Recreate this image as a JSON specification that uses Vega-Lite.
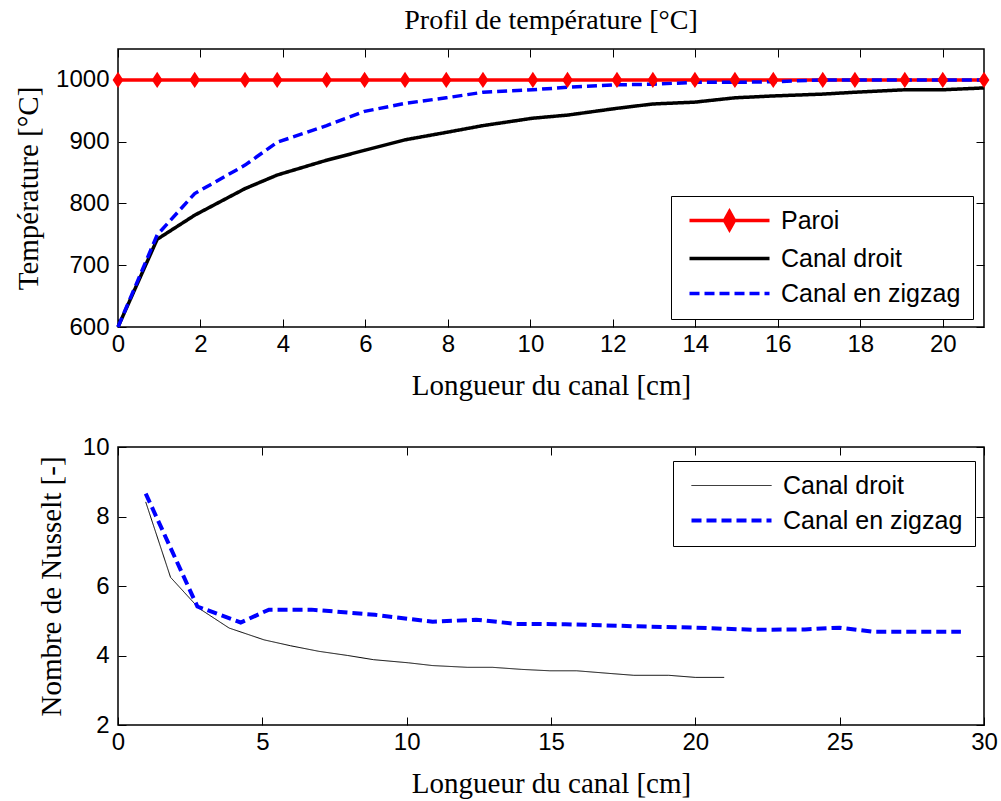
{
  "$schema": "https://vega.github.io/schema/vega-lite/v6.json",
  "padding": {"left": 13, "top": 5, "right": 5, "bottom": 5},
  "background": "white",
  "spacing": 120,
  "bounds": "flush",
  "config": {
    "view": {"stroke": "black", "strokeWidth": 1.5},
    "axis": {
      "grid": false, "domain": false, "tickColor": "black", "tickSize": -8, "tickWidth": 1, "labelFlush": false, "format": "d",
      "labelFont": "Liberation Sans", "labelFontSize": 24, "labelColor": "black",
      "titleFont": "Liberation Serif", "titleFontSize": 29, "titleFontWeight": "normal", "titleColor": "black"
    },
    "legend": {
      "orient": "none", "title": null, "strokeColor": "black", "fillColor": "white", "padding": 12,
      "labelFont": "Liberation Sans", "labelFontSize": 25, "labelColor": "black", "labelOffset": 73, "labelLimit": 0,
      "symbolSize": 400, "rowPadding": 9
    }
  },
  "resolve": {"scale": {"color": "independent", "strokeDash": "independent", "strokeWidth": "independent"}, "legend": {"color": "independent"}},
  "vconcat": [
    {
      "width": 866, "height": 278,
      "title": {"text": "Profil de température [°C]", "font": "Liberation Serif", "fontSize": 28, "fontWeight": "normal", "color": "black", "offset": 14},
      "data": {"values": [
        {"x": 0, "T": 1000, "serie": "Paroi"}, {"x": 0.95, "T": 1000, "serie": "Paroi"}, {"x": 1.86, "T": 1000, "serie": "Paroi"},
        {"x": 3.08, "T": 1000, "serie": "Paroi"}, {"x": 3.86, "T": 1000, "serie": "Paroi"}, {"x": 5.06, "T": 1000, "serie": "Paroi"},
        {"x": 5.98, "T": 1000, "serie": "Paroi"}, {"x": 6.96, "T": 1000, "serie": "Paroi"}, {"x": 7.96, "T": 1000, "serie": "Paroi"},
        {"x": 8.85, "T": 1000, "serie": "Paroi"}, {"x": 10.06, "T": 1000, "serie": "Paroi"}, {"x": 10.9, "T": 1000, "serie": "Paroi"},
        {"x": 12.1, "T": 1000, "serie": "Paroi"}, {"x": 12.97, "T": 1000, "serie": "Paroi"}, {"x": 13.99, "T": 1000, "serie": "Paroi"},
        {"x": 14.96, "T": 1000, "serie": "Paroi"}, {"x": 15.89, "T": 1000, "serie": "Paroi"}, {"x": 17.09, "T": 1000, "serie": "Paroi"},
        {"x": 17.87, "T": 1000, "serie": "Paroi"}, {"x": 19.08, "T": 1000, "serie": "Paroi"}, {"x": 20, "T": 1000, "serie": "Paroi"},
        {"x": 21, "T": 1000, "serie": "Paroi"},
        {"x": 0, "T": 600, "serie": "Canal droit"}, {"x": 0.95, "T": 742, "serie": "Canal droit"}, {"x": 1.86, "T": 781, "serie": "Canal droit"},
        {"x": 3.08, "T": 824, "serie": "Canal droit"}, {"x": 3.86, "T": 846, "serie": "Canal droit"}, {"x": 5.06, "T": 870, "serie": "Canal droit"},
        {"x": 5.98, "T": 886, "serie": "Canal droit"}, {"x": 6.96, "T": 903, "serie": "Canal droit"}, {"x": 7.96, "T": 915, "serie": "Canal droit"},
        {"x": 8.85, "T": 926, "serie": "Canal droit"}, {"x": 10.06, "T": 938, "serie": "Canal droit"}, {"x": 10.9, "T": 943, "serie": "Canal droit"},
        {"x": 12.1, "T": 954, "serie": "Canal droit"}, {"x": 12.97, "T": 961, "serie": "Canal droit"}, {"x": 13.99, "T": 964, "serie": "Canal droit"},
        {"x": 14.96, "T": 971, "serie": "Canal droit"}, {"x": 15.89, "T": 974, "serie": "Canal droit"}, {"x": 17.09, "T": 977, "serie": "Canal droit"},
        {"x": 17.87, "T": 980, "serie": "Canal droit"}, {"x": 19.08, "T": 984, "serie": "Canal droit"}, {"x": 20, "T": 984, "serie": "Canal droit"},
        {"x": 21, "T": 987, "serie": "Canal droit"},
        {"x": 0, "T": 600, "serie": "Canal en zigzag"}, {"x": 0.95, "T": 749, "serie": "Canal en zigzag"}, {"x": 1.86, "T": 816, "serie": "Canal en zigzag"},
        {"x": 3.08, "T": 862, "serie": "Canal en zigzag"}, {"x": 3.86, "T": 899, "serie": "Canal en zigzag"}, {"x": 5.06, "T": 926, "serie": "Canal en zigzag"},
        {"x": 5.98, "T": 949, "serie": "Canal en zigzag"}, {"x": 6.96, "T": 962, "serie": "Canal en zigzag"}, {"x": 7.96, "T": 971, "serie": "Canal en zigzag"},
        {"x": 8.85, "T": 980, "serie": "Canal en zigzag"}, {"x": 10.06, "T": 984, "serie": "Canal en zigzag"}, {"x": 10.9, "T": 988, "serie": "Canal en zigzag"},
        {"x": 12.1, "T": 992, "serie": "Canal en zigzag"}, {"x": 12.97, "T": 993, "serie": "Canal en zigzag"}, {"x": 13.99, "T": 996, "serie": "Canal en zigzag"},
        {"x": 14.96, "T": 996, "serie": "Canal en zigzag"}, {"x": 15.89, "T": 997, "serie": "Canal en zigzag"}, {"x": 17.09, "T": 1000, "serie": "Canal en zigzag"},
        {"x": 17.87, "T": 1000, "serie": "Canal en zigzag"}, {"x": 19.08, "T": 1000, "serie": "Canal en zigzag"}, {"x": 20, "T": 1000, "serie": "Canal en zigzag"},
        {"x": 21, "T": 1000, "serie": "Canal en zigzag"}
      ]},
      "resolve": {"axis": {"x": "independent", "y": "independent"}},
      "layer": [
        {
          "mark": {"type": "line", "strokeWidth": 3.5, "clip": false},
          "encoding": {
            "x": {"field": "x", "type": "quantitative", "scale": {"domain": [0, 21], "nice": false, "zero": false},
                  "axis": {"title": "Longueur du canal [cm]", "values": [0, 2, 4, 6, 8, 10, 12, 14, 16, 18, 20], "labelPadding": 13, "titlePadding": 15}},
            "y": {"field": "T", "type": "quantitative", "scale": {"domain": [600, 1050], "nice": false, "zero": false},
                  "axis": {"title": "Température [°C]", "values": [600, 700, 800, 900, 1000], "labelPadding": 17, "titlePadding": 12}},
            "color": {"field": "serie", "type": "nominal",
                      "scale": {"domain": ["Paroi", "Canal droit", "Canal en zigzag"], "range": ["#ff0000", "#000000", "#0000ff"]},
                      "legend": {"legendX": 553, "legendY": 147,
                        "encode": {"symbols": {"update": {
                          "shape": [{"test": "datum.value === 'Paroi'", "value": "M-0.6,0H7.4M3.4,-0.9L3.9,0L3.4,0.9L2.9,0Z"}, {"value": "M-0.6,0H7.4"}],
                          "fill": [{"test": "datum.value === 'Paroi'", "value": "#ff0000"}, {"value": "transparent"}],
                          "strokeDash": [{"test": "datum.value === 'Canal en zigzag'", "value": [10, 5]}, {"value": [1, 0]}],
                          "strokeWidth": {"value": 3.5}, "opacity": {"value": 1}
                        }}}}},
            "strokeDash": {"field": "serie", "type": "nominal",
                           "scale": {"domain": ["Paroi", "Canal droit", "Canal en zigzag"], "range": [[1, 0], [1, 0], [10, 5]]}, "legend": null}
          }
        },
        {
          "transform": [{"filter": "datum.serie === 'Paroi'"}],
          "mark": {"type": "point", "shape": "M0,-1.5L1,0L0,1.5L-1,0Z", "size": 70, "filled": true, "color": "#ff0000", "stroke": "#ff0000", "strokeWidth": 2, "opacity": 1, "clip": false},
          "encoding": {
            "x": {"field": "x", "type": "quantitative", "axis": {"orient": "top", "labels": false, "title": null, "values": [0, 2, 4, 6, 8, 10, 12, 14, 16, 18, 20]}},
            "y": {"field": "T", "type": "quantitative", "axis": {"orient": "right", "labels": false, "title": null, "values": [600, 700, 800, 900, 1000]}}
          }
        }
      ]
    },
    {
      "width": 866, "height": 278,
      "data": {"values": [
        {"x": 0.96, "Nu": 8.42, "serie": "Canal droit"}, {"x": 1.82, "Nu": 6.25, "serie": "Canal droit"}, {"x": 2.8, "Nu": 5.36, "serie": "Canal droit"},
        {"x": 3.85, "Nu": 4.79, "serie": "Canal droit"}, {"x": 5.06, "Nu": 4.45, "serie": "Canal droit"}, {"x": 5.98, "Nu": 4.28, "serie": "Canal droit"},
        {"x": 6.96, "Nu": 4.12, "serie": "Canal droit"}, {"x": 7.96, "Nu": 4.0, "serie": "Canal droit"}, {"x": 8.85, "Nu": 3.88, "serie": "Canal droit"},
        {"x": 10.06, "Nu": 3.79, "serie": "Canal droit"}, {"x": 10.9, "Nu": 3.71, "serie": "Canal droit"}, {"x": 12.1, "Nu": 3.66, "serie": "Canal droit"},
        {"x": 12.97, "Nu": 3.66, "serie": "Canal droit"}, {"x": 13.99, "Nu": 3.6, "serie": "Canal droit"}, {"x": 14.96, "Nu": 3.56, "serie": "Canal droit"},
        {"x": 15.89, "Nu": 3.56, "serie": "Canal droit"}, {"x": 17.09, "Nu": 3.48, "serie": "Canal droit"}, {"x": 17.87, "Nu": 3.43, "serie": "Canal droit"},
        {"x": 19.08, "Nu": 3.43, "serie": "Canal droit"}, {"x": 20, "Nu": 3.37, "serie": "Canal droit"}, {"x": 21, "Nu": 3.37, "serie": "Canal droit"},
        {"x": 0.96, "Nu": 8.66, "serie": "Canal en zigzag"}, {"x": 2.75, "Nu": 5.41, "serie": "Canal en zigzag"}, {"x": 4.25, "Nu": 4.95, "serie": "Canal en zigzag"},
        {"x": 5.23, "Nu": 5.32, "serie": "Canal en zigzag"}, {"x": 6.7, "Nu": 5.32, "serie": "Canal en zigzag"}, {"x": 8.9, "Nu": 5.17, "serie": "Canal en zigzag"},
        {"x": 10.9, "Nu": 4.97, "serie": "Canal en zigzag"}, {"x": 12.4, "Nu": 5.03, "serie": "Canal en zigzag"}, {"x": 13.8, "Nu": 4.91, "serie": "Canal en zigzag"},
        {"x": 15.5, "Nu": 4.9, "serie": "Canal en zigzag"}, {"x": 18, "Nu": 4.84, "serie": "Canal en zigzag"}, {"x": 20, "Nu": 4.8, "serie": "Canal en zigzag"},
        {"x": 22, "Nu": 4.74, "serie": "Canal en zigzag"}, {"x": 23.8, "Nu": 4.75, "serie": "Canal en zigzag"}, {"x": 25.0, "Nu": 4.8, "serie": "Canal en zigzag"},
        {"x": 26.2, "Nu": 4.68, "serie": "Canal en zigzag"}, {"x": 29.2, "Nu": 4.68, "serie": "Canal en zigzag"}
      ]},
      "resolve": {"axis": {"x": "independent", "y": "independent"}},
      "layer": [
        {
          "mark": {"type": "line", "clip": false},
          "encoding": {
            "x": {"field": "x", "type": "quantitative", "scale": {"domain": [0, 30], "nice": false, "zero": false},
                  "axis": {"title": "Longueur du canal [cm]", "values": [0, 5, 10, 15, 20, 25, 30], "labelPadding": 13, "titlePadding": 15}},
            "y": {"field": "Nu", "type": "quantitative", "scale": {"domain": [2, 10], "nice": false, "zero": false},
                  "axis": {"title": "Nombre de Nusselt [-]", "values": [2, 4, 6, 8, 10], "labelPadding": 17, "titlePadding": 16}},
            "color": {"field": "serie", "type": "nominal",
                      "scale": {"domain": ["Canal droit", "Canal en zigzag"], "range": ["#000000", "#0000ff"]},
                      "legend": {"legendX": 555, "legendY": 14,
                        "encode": {"symbols": {"update": {
                          "shape": {"value": "M-0.6,0H7.4"},
                          "fill": {"value": "transparent"},
                          "strokeDash": [{"test": "datum.value === 'Canal en zigzag'", "value": [10, 5]}, {"value": [1, 0]}],
                          "strokeWidth": [{"test": "datum.value === 'Canal en zigzag'", "value": 4}, {"value": 1}],
                          "opacity": {"value": 1}
                        }}}}},
            "strokeDash": {"field": "serie", "type": "nominal",
                           "scale": {"domain": ["Canal droit", "Canal en zigzag"], "range": [[1, 0], [10, 5]]}, "legend": null},
            "strokeWidth": {"field": "serie", "type": "nominal",
                           "scale": {"domain": ["Canal droit", "Canal en zigzag"], "range": [1, 4]}, "legend": null}
          }
        },
        {
          "mark": {"type": "point", "opacity": 0},
          "encoding": {
            "x": {"field": "x", "type": "quantitative", "axis": {"orient": "top", "labels": false, "title": null, "values": [0, 5, 10, 15, 20, 25, 30]}},
            "y": {"field": "Nu", "type": "quantitative", "axis": {"orient": "right", "labels": false, "title": null, "values": [2, 4, 6, 8, 10]}}
          }
        }
      ]
    }
  ]
}
